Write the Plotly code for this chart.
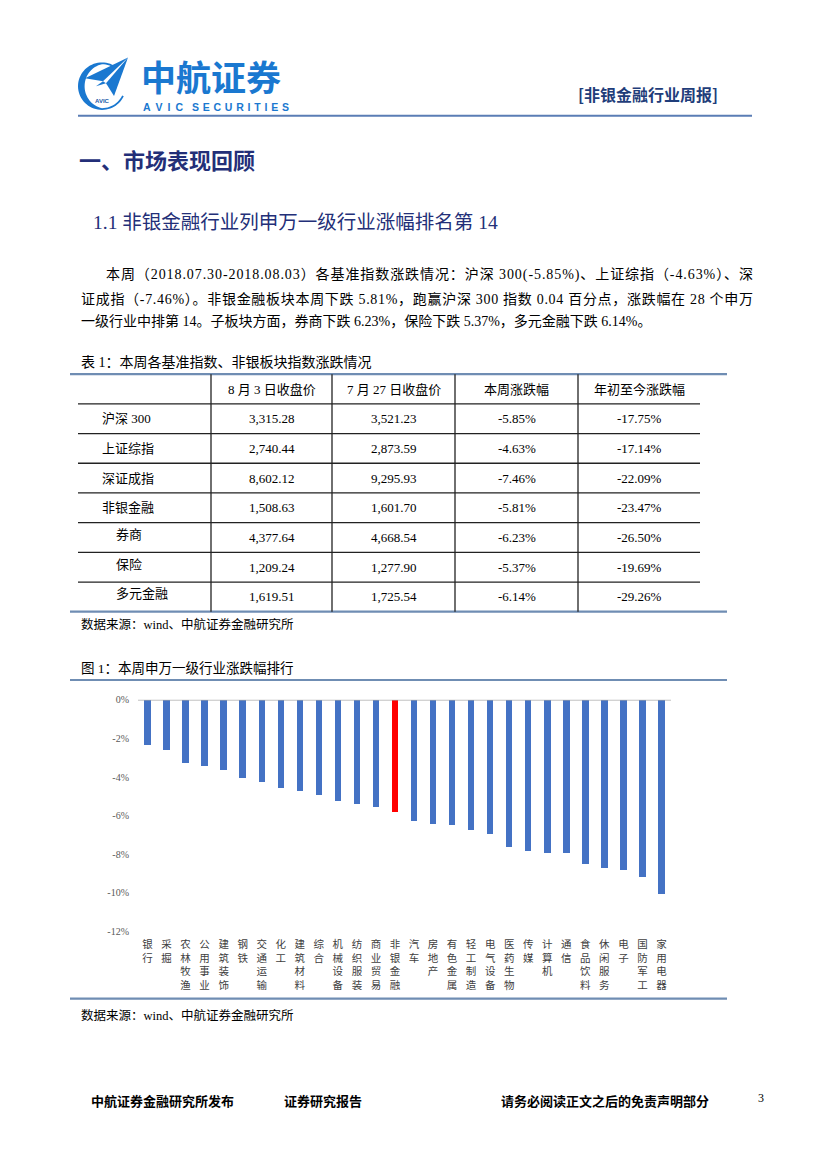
import math
import json
import plotly.graph_objects as go

# ---------------- data ----------------
industries = ['银行', '采掘', '农林牧渔', '公用事业', '建筑装饰', '钢铁', '交通运输', '化工',
              '建筑材料', '综合', '机械设备', '纺织服装', '商业贸易', '非银金融', '汽车', '房地产',
              '有色金属', '轻工制造', '电气设备', '医药生物', '传媒', '计算机', '通信', '食品饮料',
              '休闲服务', '电子', '国防军工', '家用电器']
weekly_change = [-2.31, -2.60, -3.27, -3.42, -3.64, -4.02, -4.24, -4.58, -4.72, -4.94, -5.21,
                 -5.37, -5.56, -5.81, -6.27, -6.43, -6.46, -6.73, -6.94, -7.62, -7.83, -7.91,
                 -7.95, -8.50, -8.70, -8.81, -9.19, -10.03]
highlight = '非银金融'
y_ticks = [0, -2, -4, -6, -8, -10, -12]
y_tick_labels = ['0%', '-2%', '-4%', '-6%', '-8%', '-10%', '-12%']

table_header = ['', '8 月 3 日收盘价', '7 月 27 日收盘价', '本周涨跌幅', '年初至今涨跌幅']
table_rows = ['沪深 300', '上证综指', '深证成指', '非银金融', '券商', '保险', '多元金融']
table_sub = [False, False, False, False, True, True, True]
close_0803 = [3315.28, 2740.44, 8602.12, 1508.63, 4377.64, 1209.24, 1619.51]
close_0727 = [3521.23, 2873.59, 9295.93, 1601.70, 4668.54, 1277.90, 1725.54]
week_pct = [-5.85, -4.63, -7.46, -5.81, -6.23, -5.37, -6.14]
ytd_pct = [-17.75, -17.14, -22.09, -23.47, -26.50, -19.69, -29.26]

para_lines = [
    '本周（2018.07.30-2018.08.03）各基准指数涨跌情况：沪深 300(-5.85%)、上证综指（-4.63%）、深',
    '证成指（-7.46%）。非银金融板块本周下跌 5.81%，跑赢沪深 300 指数 0.04 百分点，涨跌幅在 28 个申万',
    '一级行业中排第 14。子板块方面，券商下跌 6.23%，保险下跌 5.37%，多元金融下跌 6.14%。',
]

# ---------------- page helpers ----------------
W, H = 827, 1169
CJK = 'Noto Sans CJK SC'
BODY = 'Liberation Serif, Noto Sans CJK SC'


def X(px):
    return px / W


def Y(py):
    return 1 - py / H


fig = go.Figure()


def text(x, y, s, size, color='#000000', family=BODY, xanchor='left', bold=False, align='center'):
    fig.add_annotation(x=X(x), y=Y(y), xref='paper', yref='paper', text=(f'<b>{s}</b>' if bold else s),
                       showarrow=False, xanchor=xanchor, yanchor='middle', borderpad=0, align=align,
                       font=dict(size=size, color=color, family=family))


def hline(x0, x1, y, color, width):
    fig.add_shape(type='line', xref='paper', yref='paper', x0=X(x0), x1=X(x1), y0=Y(y), y1=Y(y),
                  line=dict(color=color, width=width))


def vline(x, y0, y1, color, width):
    fig.add_shape(type='line', xref='paper', yref='paper', x0=X(x), x1=X(x), y0=Y(y0), y1=Y(y1),
                  line=dict(color=color, width=width))


def poly(points, color):
    d = 'M ' + ' L '.join(f'{X(px):.5f},{Y(py):.5f}' for px, py in points) + ' Z'
    fig.add_shape(type='path', xref='paper', yref='paper', path=d, fillcolor=color,
                  line=dict(width=0))


# ---------------- header ----------------
BLUE = '#1a78d0'
cx, cy, R = 102, 81, 24
outer, inner = [], []
for deg in range(25, 301, 5):
    t = math.radians(deg)
    th = 1.8 + 4.8 * max(0.0, math.cos(t - math.pi))
    outer.append((cx + R * math.cos(t), cy + R * math.sin(t)))
    inner.append((cx + (R - th) * math.cos(t), cy + (R - th) * math.sin(t)))
poly(outer + inner[::-1], BLUE)
poly([(128, 52), (85, 73), (103, 76)], BLUE)
poly([(128, 52), (106, 78), (114, 91)], BLUE)
poly([(103, 76), (106, 78), (96, 81)], BLUE)
text(102, 96, 'AVIC', 6, color='#1a5aa8', family='Liberation Sans', xanchor='center', bold=True)

text(140, 70.5, '中航证券', 35, color=BLUE, family=CJK, bold=True)
NB, TH = '\u00a0', '\u2009'
avic = (NB + TH).join('AVIC') + NB * 3 + (NB + '\u200a').join('SECURITIES')
text(142, 102.5, avic, 10.5, color=BLUE, family='Liberation Sans', bold=True)
text(719, 89, '[非银金融行业周报]', 16, color='#1f3d7a', family=CJK, xanchor='right', bold=True)
hline(78, 752, 111, '#5a7db5', 2)

# ---------------- headings and paragraph ----------------
text(78, 155, '一、市场表现回顾', 22, color='#232f78', family=CJK, bold=True)
text(92, 219, '1.1 非银金融行业列申万一级行业涨幅排名第 14', 19.5, color='#232f78', family=BODY)
text(105, 271, para_lines[0], 14, family=BODY, align='left')
text(80, 296, para_lines[1], 14, family=BODY, align='left')
text(80, 318, para_lines[2], 14, family=BODY, align='left')
justify_targets = [[para_lines[0][:8], 752 - 105], [para_lines[1][:8], 752 - 80]]

# ---------------- table ----------------
text(80, 360, '表 1：本周各基准指数、非银板块指数涨跌情况', 14, family=BODY)
top, row_h = 372, 30
col_sep = [211, 332, 455, 578, 700]
col_centers = [(col_sep[i] + col_sep[i + 1]) / 2 for i in range(4)]
n_rows = len(table_rows)
bottom = top + row_h * (n_rows + 1)
hline(70, 727, top, '#6f8db3', 2.2)
hline(70, 727, bottom, '#6f8db3', 2.2)
for i in range(1, n_rows + 1):
    hline(78, 700, top + row_h * i, '#222222', 1.3)
for xs in col_sep[:4]:
    vline(xs, top, bottom, '#222222', 1.3)
for j, h in enumerate(table_header[1:]):
    text(col_centers[j], top + row_h / 2, h, 13, family=BODY, xanchor='center')
for i, name in enumerate(table_rows):
    yc = top + row_h * (i + 1) + row_h / 2
    text(115 if table_sub[i] else 101, yc - (3 if table_sub[i] else 0), name, 13, family=BODY)
    vals = [f'{close_0803[i]:,.2f}', f'{close_0727[i]:,.2f}', f'{week_pct[i]:.2f}%', f'{ytd_pct[i]:.2f}%']
    for j, v in enumerate(vals):
        text(col_centers[j], yc, v, 13, family=BODY, xanchor='center')
text(80, 625, '数据来源：wind、中航证券金融研究所', 12.5, family=BODY)

# ---------------- chart ----------------
text(80, 669, '图 1：本周申万一级行业涨跌幅排行', 13.5, family=BODY)
hline(70, 727, 681, '#6f8db3', 2.2)

colors = ['#ff0000' if n == highlight else '#4472c4' for n in industries]
fig.add_trace(go.Bar(x=list(range(len(industries))), y=weekly_change,
                     marker=dict(color=colors, line=dict(width=0)),
                     width=0.34, hoverinfo='skip', showlegend=False))
fig.update_xaxes(domain=[X(138), X(671)], range=[-0.5, len(industries) - 0.5],
                 tickvals=list(range(len(industries))), ticktext=['<br>'.join(n) for n in industries],
                 tickangle=0, showgrid=False, zeroline=False, showline=False, ticks='',
                 tickfont=dict(size=10.5, color='#404040', family=CJK), ticklabelstandoff=5)
fig.update_yaxes(domain=[Y(935), Y(701)], range=[-12, 0], tickvals=y_ticks, ticktext=y_tick_labels,
                 showgrid=False, zeroline=False, showline=False, ticks='',
                 tickfont=dict(size=10, color='#595959', family='Liberation Serif'), ticklabelstandoff=8)
fig.add_shape(type='line', xref='x domain', yref='y', x0=0, x1=1, y0=0, y1=0,
              line=dict(color='#a6a6a6', width=1.2))
hline(70, 727, 1003, '#6f8db3', 2.2)
text(80, 1020, '数据来源：wind、中航证券金融研究所', 12.5, family=BODY)

# ---------------- footer ----------------
text(90, 1106, '中航证券金融研究所发布', 13, family=CJK, bold=True)
text(283, 1106, '证券研究报告', 13, family=CJK, bold=True)
text(500, 1106, '请务必阅读正文之后的免责声明部分', 13, family=CJK, bold=True)
text(757, 1103, '3', 12, family='Liberation Serif')

fig.update_layout(width=W, height=H, margin=dict(l=0, r=0, t=0, b=0), paper_bgcolor='white',
                  plot_bgcolor='rgba(0,0,0,0)', bargap=0, showlegend=False)

post_js = """
document.body.style.margin = '0';
document.documentElement.style.overflow = 'hidden';
var gd = document.getElementById('{plot_id}');
var J = JTARGETS;
function justifyLines() {
  var ts = gd.querySelectorAll('text.annotation-text');
  for (var i = 0; i < ts.length; i++) {
    var t = ts[i];
    for (var k = 0; k < J.length; k++) {
      if (t.textContent.indexOf(J[k][0]) === 0) {
        t.setAttribute('text-anchor', 'start');
        t.setAttribute('textLength', J[k][1]);
        t.setAttribute('lengthAdjust', 'spacing');
      }
    }
  }
}
justifyLines();
if (gd.on) { gd.on('plotly_afterplot', justifyLines); }
setTimeout(justifyLines, 100);
""".replace('JTARGETS', json.dumps(justify_targets, ensure_ascii=False))

fig.write_html('out.html', post_script=post_js, config={'displayModeBar': False})
